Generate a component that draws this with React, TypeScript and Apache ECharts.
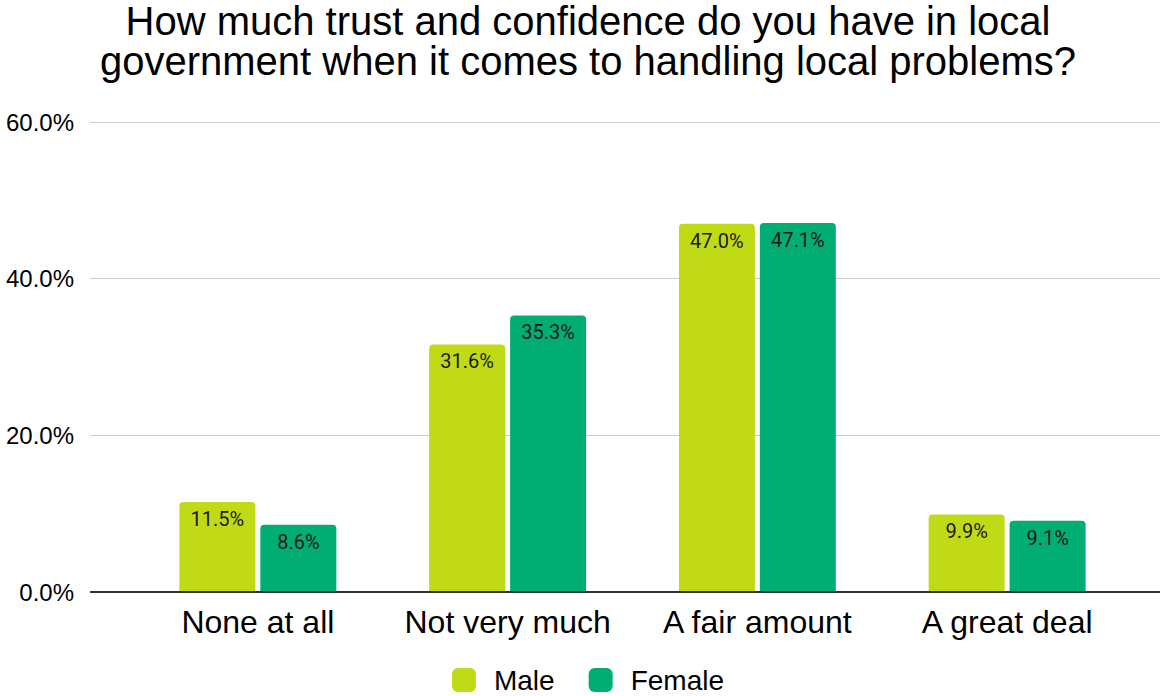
import React, { useEffect, useRef } from "react";
import * as echarts from "echarts";

const titleText = "How much trust and confidence do you have in local\ngovernment when it comes to handling local problems?";
const categories = ["None at all", "Not very much", "A fair amount", "A great deal"];
const maleValues = [11.5, 31.6, 47.0, 9.9];
const femaleValues = [8.6, 35.3, 47.1, 9.1];
const seriesNames = ["Male", "Female"];
const yTicks = [0, 20, 40, 60];

export default function App() {
  const ref = useRef<HTMLDivElement>(null);
  useEffect(() => {
    const chart = echarts.init(ref.current!, null, { renderer: "svg" });
    const font = "'Liberation Sans', Arial, sans-serif";
    const labelStyle = {
      show: true,
      position: "insideTop",
      distance: 7,
      color: "#1a1a1a",
      fontSize: 20,
      fontFamily: "Roboto, sans-serif",
      formatter: (p: any) => p.value.toFixed(1) + "%",
    };
    chart.setOption({
      animation: false,
      backgroundColor: "#ffffff",
      title: {
        text: titleText,
        left: "center",
        top: 1,
        padding: 0,
        textStyle: { fontSize: 40, fontWeight: "normal", color: "#000", fontFamily: font, lineHeight: 40 },
      },
      legend: {
        top: 666,
        left: "center",
        padding: 0,
        icon: "roundRect",
        itemWidth: 24,
        itemHeight: 24,
        itemGap: 34,
        textStyle: { fontSize: 28, lineHeight: 24, color: "#000", fontFamily: font, padding: [0, 0, 0, 13] },
        data: seriesNames,
      },
      grid: [
        { left: 90, right: 16, top: 122, bottom: 104, containLabel: false },
        { left: 133, right: 44, top: 122, bottom: 104, containLabel: false },
      ],
      xAxis: [
        { type: "category", gridIndex: 0, data: categories, show: false },
        {
          type: "category",
          gridIndex: 1,
          data: categories,
          axisLine: { show: false },
          axisTick: { show: false },
          axisLabel: { interval: 0, fontSize: 32, color: "#000", fontFamily: font, margin: 14 },
        },
      ],
      yAxis: [
        {
          type: "value",
          gridIndex: 0,
          min: 0,
          max: 60,
          interval: 20,
          axisLine: { show: false },
          axisTick: { show: false },
          splitLine: { lineStyle: { color: "#cccccc", width: 1 } },
          axisLabel: {
            fontSize: 24,
            color: "#000",
            fontFamily: font,
            margin: 16,
            formatter: (v: number) => (yTicks.includes(v) ? v.toFixed(1) + "%" : ""),
          },
        },
        { type: "value", gridIndex: 1, min: 0, max: 60, interval: 20, show: false },
      ],
      series: [
        {
          name: seriesNames[0],
          type: "bar",
          xAxisIndex: 1,
          yAxisIndex: 1,
          data: maleValues,
          barWidth: 76,
          barGap: "6.5%",
          itemStyle: { color: "#c0da16", borderRadius: [4, 4, 0, 0] },
          label: labelStyle,
        },
        {
          name: seriesNames[1],
          type: "bar",
          xAxisIndex: 1,
          yAxisIndex: 1,
          data: femaleValues,
          barWidth: 76,
          barGap: "6.5%",
          itemStyle: { color: "#00ad72", borderRadius: [4, 4, 0, 0] },
          label: labelStyle,
        },
        {
          type: "line",
          xAxisIndex: 0,
          yAxisIndex: 0,
          data: [],
          markLine: {
            silent: true,
            symbol: "none",
            label: { show: false },
            lineStyle: { color: "#333333", width: 2, type: "solid" },
            data: [{ yAxis: 0 }],
          },
        },
      ],
    });
    return () => chart.dispose();
  }, []);
  return <div ref={ref} style={{ position: "absolute", left: 0, top: 0, width: 1176, height: 696 }} />;
}
